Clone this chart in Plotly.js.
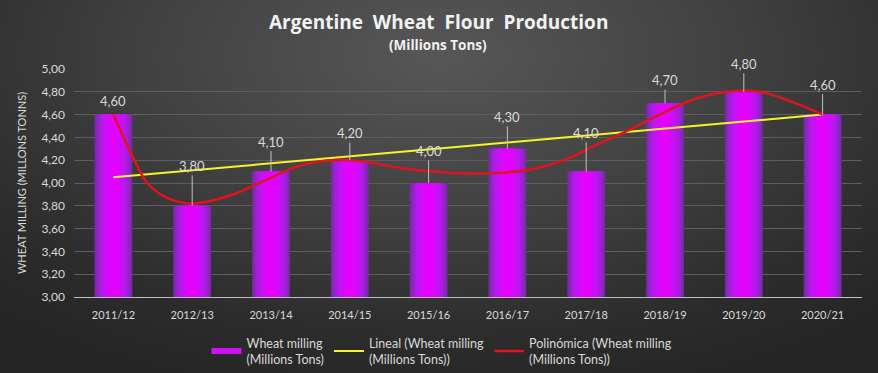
<!DOCTYPE html>
<html>
<head>
<meta charset="utf-8">
<script src="https://cdn.plot.ly/plotly-3.0.1.min.js"></script>
<style>
  html, body { margin:0; padding:0; width:878px; height:373px; overflow:hidden;
    background: radial-gradient(ellipse 75% 95% at 50% 15%, #575757 0%, #414141 45%, #2c2c2c 80%, #252525 100%); }
  #chart { width:878px; height:373px; }
</style>
</head>
<body>
<div id="chart"></div>
<script>
// ---- Data ----
const categories = ["2011/12","2012/13","2013/14","2014/15","2015/16","2016/17","2017/18","2018/19","2019/20","2020/21"];
const wheatMilling = [4.60, 3.80, 4.10, 4.20, 4.00, 4.30, 4.10, 4.70, 4.80, 4.60];
// Linear trendline endpoints
const linealX = [0, 9];
const linealY = [4.05, 4.60];
const polyX = [0, 0.13, 0.28, 0.43, 0.68, 1.0, 1.48, 1.95, 2.4, 3.0, 3.67, 4.3, 4.94, 5.37, 5.79, 6.08, 6.5, 6.93, 7.35, 7.78, 8.2, 8.62, 9];
const polyY = [4.60, 4.40, 4.18, 4.00, 3.87, 3.82, 3.89, 4.03, 4.16, 4.20, 4.13, 4.09, 4.09, 4.13, 4.22, 4.32, 4.45, 4.60, 4.73, 4.80, 4.80, 4.71, 4.60];

// ---- Style ----
const xIdx = categories.map((c, i) => i);
const labelOffsets = [-14, -40, -30, -27, -32, -32, -39, -23, -28, -30];
const gradLayers = [
  {w: 0.48, c: '#7a2aa8'},
  {w: 0.43, c: '#8f26c4'},
  {w: 0.38, c: '#a41fdc'},
  {w: 0.32, c: '#b818ec'},
  {w: 0.25, c: '#ca10f6'},
  {w: 0.17, c: '#da08fc'},
  {w: 0.09, c: '#e602ff'}
];
const txt = '#d9d9d9';
const font = 'Lato, "Open Sans", sans-serif';
const titleFont = '"Open Sans", Lato, sans-serif';

const traces = [{
  type: 'scatter', mode: 'lines', x: [null], y: [null],
  line: {color: '#d210f5', width: 6},
  name: 'Wheat milling<br>(Millions Tons)', showlegend: true, hoverinfo: 'skip'
}];
gradLayers.forEach((g) => traces.push({
  type: 'bar', x: xIdx, y: wheatMilling, width: g.w,
  marker: {color: g.c, line: {width: 0}},
  name: 'Wheat milling', showlegend: false, hoverinfo: 'skip'
}));
traces.push({
  type: 'scatter', mode: 'lines', x: linealX, y: linealY,
  line: {color: '#f5f52a', width: 2},
  name: 'Lineal (Wheat milling<br>(Millions Tons))'
});
traces.push({
  type: 'scatter', mode: 'lines', x: polyX, y: polyY,
  line: {color: '#e0141e', width: 2.5, shape: 'spline', smoothing: 1},
  name: 'Polinómica (Wheat milling<br>(Millions Tons))'
});

const annotations = wheatMilling.map((v, i) => ({
  x: i, y: v, xref: 'x', yref: 'y',
  text: v.toFixed(2).replace('.', ','),
  showarrow: true, arrowhead: 0, arrowwidth: 1,
  arrowcolor: i === 0 ? 'rgba(0,0,0,0)' : '#bfbfbf',
  ax: 0, ay: labelOffsets[i], standoff: 0,
  font: {family: font, size: 13, color: txt}
}));
annotations.push({
  text: '<b>Argentine  Wheat  Flour  Production</b>',
  xref: 'paper', yref: 'paper', x: 0.462, y: 1.206, xanchor: 'center', yanchor: 'middle',
  showarrow: false, font: {family: titleFont, size: 19, color: '#f2f2f2'}
});
annotations.push({
  text: '<b>(Millions Tons)</b>',
  xref: 'paper', yref: 'paper', x: 0.462, y: 1.105, xanchor: 'center', yanchor: 'middle',
  showarrow: false, font: {family: titleFont, size: 13.5, color: '#f2f2f2'}
});

const layout = {
  width: 878, height: 373,
  paper_bgcolor: 'rgba(0,0,0,0)', plot_bgcolor: 'rgba(0,0,0,0)',
  separators: ',.',
  margin: {l: 74, r: 16, t: 69, b: 76},
  barmode: 'overlay',
  font: {family: font, color: txt, size: 11},
  xaxis: {
    range: [-0.5, 9.5], tickmode: 'array', tickvals: xIdx, ticktext: categories,
    showgrid: false, zeroline: false, showline: true, linecolor: '#bfbfbf', linewidth: 1,
    ticks: '', ticklabelstandoff: 8, tickfont: {family: font, size: 11, color: txt}, fixedrange: true
  },
  yaxis: {
    range: [3, 5], dtick: 0.2, tick0: 3, tickformat: '.2f',
    showgrid: true, gridcolor: '#5e5e5e', gridwidth: 1, zeroline: false, showline: false,
    ticks: '', ticklabelstandoff: 8, tickfont: {family: font, size: 12, color: txt},
    title: {text: 'WHEAT MILLING (MILLONS TONNS)', font: {family: font, size: 11, color: txt}, standoff: 12},
    fixedrange: true
  },
  showlegend: true,
  legend: {
    orientation: 'h', x: 0.467, xanchor: 'center', yref: 'container', y: 0.12, yanchor: 'top',
    font: {family: font, size: 12.5, color: txt}, bgcolor: 'rgba(0,0,0,0)',
    traceorder: 'normal', itemwidth: 30, tracegroupgap: 0
  },
  annotations: annotations
};

Plotly.newPlot('chart', traces, layout, {displayModeBar: false, staticPlot: true});
</script>
</body>
</html>
